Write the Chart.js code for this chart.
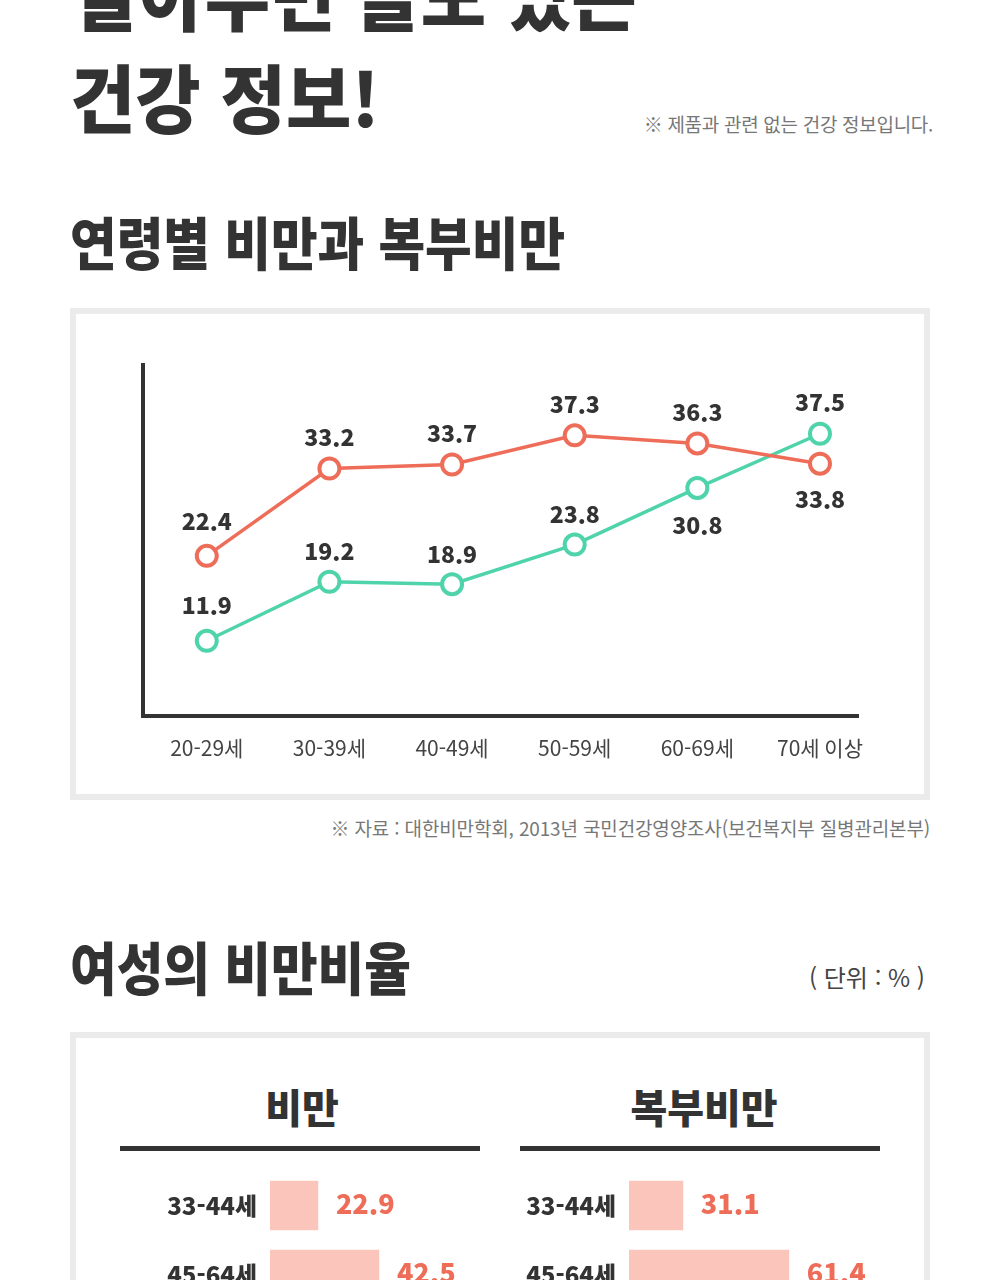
<!DOCTYPE html>
<html lang="ko">
<head>
<meta charset="utf-8">
<title>연령별 비만과 복부비만</title>
<script src="https://cdn.jsdelivr.net/npm/chart.js@4.4.1/dist/chart.umd.min.js"></script>
<style>
  html, body { margin: 0; padding: 0; background: #fff; }
  body {
    width: 1000px; height: 1280px; position: relative; overflow: hidden;
    font-family: "Noto Sans CJK KR", "Noto Sans", sans-serif; color: #333;
  }
  .abs { position: absolute; white-space: nowrap; line-height: 1; }
  .head { font-weight: 900; transform-origin: 0 0; transform: scaleX(0.89); }
  .big { transform: scaleX(0.96); }
  .note { color: #777; font-size: 19px; letter-spacing: -0.3px; }
  .box { position: absolute; left: 70px; width: 848px; border: 6px solid #ebebeb; background: #fff; }
  .panel-title { position: absolute; width: 360px; text-align: center; font-size: 40px; font-weight: 900; line-height: 1; }
  .rule { position: absolute; width: 360px; height: 5px; background: #333; }
  canvas { position: absolute; }
</style>
</head>
<body>

<div class="abs head big" style="left:74px; top:-44px; font-size:74px;">알아두면 쓸모 있는</div>
<div class="abs head big" style="left:70px; top:58px; font-size:74px;">건강 정보!</div>
<div class="abs note" style="right:67px; top:114px;">※ 제품과 관련 없는 건강 정보입니다.</div>

<div class="abs head" style="left:70px; top:212px; font-size:57px;">연령별 비만과 복부비만</div>

<div class="box" style="top:308px; height:480px;"></div>
<canvas id="lineChart" width="847" height="479" style="left:76px; top:314px;"></canvas>

<div class="abs note" style="right:70px; top:818px; letter-spacing:-0.15px;">※ 자료 : 대한비만학회, 2013년 국민건강영양조사(보건복지부 질병관리본부)</div>

<div class="abs head" style="left:70px; top:937px; font-size:57px;">여성의 비만비율</div>
<div class="abs" style="right:75px; top:965px; font-size:24px; color:#444;">( 단위 : % )</div>

<div class="box" style="top:1032px; height:400px;"></div>
<div class="panel-title" style="left:122px; top:1086px;">비만</div>
<div class="panel-title" style="left:524px; top:1086px;">복부비만</div>
<div class="rule" style="left:120px; top:1146px;"></div>
<div class="rule" style="left:520px; top:1146px;"></div>
<canvas id="barLeft" width="360" height="160" style="left:120px; top:1160px;"></canvas>
<canvas id="barRight" width="360" height="160" style="left:520px; top:1160px;"></canvas>

<script>
// Age groups and rates (%) for the line chart
const ageGroups = ['20-29세', '30-39세', '40-49세', '50-59세', '60-69세', '70세 이상'];
const obesityRate = [22.4, 33.2, 33.7, 37.3, 36.3, 33.8];
const abdominalRate = [11.9, 19.2, 18.9, 23.8, 30.8, 37.5];

// Women's obesity ratio (%) for the bar panels
const womenAges = ['33-44세', '45-64세'];
const womenObesity = [22.9, 42.5];
const womenAbdominal = [31.1, 61.4];

const DARK = '#333333';
const CORAL = '#ee6d59';
const MINT = '#4fd3ab';
const PINK = '#fcc5bc';
const NUM_FONT = '"Noto Sans CJK KR", "Noto Sans", sans-serif';

// Draw the value above / below each point
const pointLabels = {
  id: 'pointLabels',
  afterDatasetsDraw(chart) {
    const ctx = chart.ctx;
    chart.data.datasets.forEach((ds, di) => {
      const meta = chart.getDatasetMeta(di);
      meta.data.forEach((pt, i) => {
        ctx.save();
        ctx.font = '900 23px ' + NUM_FONT;
        ctx.fillStyle = DARK;
        ctx.textAlign = 'center';
        ctx.textBaseline = 'middle';
        ctx.fillText(ds.data[i].y.toFixed(1), pt.x, pt.y + ds.labelOffsets[i]);
        ctx.restore();
      });
    });
  }
};

new Chart(document.getElementById('lineChart'), {
  type: 'line',
  data: {
    datasets: [
      {
        label: '비만',
        data: obesityRate.map((v, i) => ({ x: i, y: v })),
        borderColor: CORAL,
        borderWidth: 3.5,
        pointRadius: 10,
        pointBorderWidth: 4,
        pointBackgroundColor: '#fff',
        pointBorderColor: CORAL,
        labelOffsets: [-35, -31, -31, -31, -31, 36],
        clip: false,
      },
      {
        label: '복부비만',
        data: abdominalRate.map((v, i) => ({ x: i, y: v })),
        borderColor: MINT,
        borderWidth: 3.5,
        pointRadius: 10,
        pointBorderWidth: 4,
        pointBackgroundColor: '#fff',
        pointBorderColor: MINT,
        labelOffsets: [-36, -30, -30, -30, 37, -31],
        clip: false,
      },
    ],
  },
  options: {
    responsive: false,
    animation: false,
    layout: { padding: { left: 67, right: 65, top: 51, bottom: 0 } },
    plugins: { legend: { display: false }, tooltip: { enabled: false } },
    scales: {
      x: {
        type: 'linear',
        min: -0.52,
        max: 5.31,
        grid: { display: false, drawTicks: false },
        border: { display: true, color: DARK, width: 4 },
        afterBuildTicks: (scale) => {
          scale.ticks = ageGroups.map((_, i) => ({ value: i }));
        },
        afterFit: (scale) => { scale.height = 77; },
        ticks: {
          padding: 19,
          color: '#444',
          font: { family: NUM_FONT, size: 21, weight: '400' },
          callback: (v) => ageGroups[v],
        },
      },
      y: {
        min: 2.6,
        max: 46,
        grid: { display: false, drawTicks: false },
        border: { display: true, color: DARK, width: 4 },
        ticks: { display: false },
        afterFit: (scale) => { scale.width = 0; },
      },
    },
  },
  plugins: [pointLabels],
});

// Value text to the right of each bar
const barValues = {
  id: 'barValues',
  afterDatasetsDraw(chart) {
    const ctx = chart.ctx;
    const meta = chart.getDatasetMeta(0);
    const values = chart.data.datasets[0].data;
    meta.data.forEach((bar, i) => {
      ctx.save();
      ctx.font = '900 27px ' + NUM_FONT;
      ctx.fillStyle = CORAL;
      ctx.textAlign = 'left';
      ctx.textBaseline = 'middle';
      ctx.fillText(values[i].toFixed(1), bar.x + 18, bar.y - 2);
      ctx.restore();
    });
  }
};

function makeBarChart(id, values, xMin, xMax, labelWidth) {
  return new Chart(document.getElementById(id), {
    type: 'bar',
    data: {
      labels: womenAges,
      datasets: [{ data: values, backgroundColor: PINK, barThickness: 49 }],
    },
    options: {
      indexAxis: 'y',
      responsive: false,
      animation: false,
      layout: { autoPadding: false, padding: { left: 0, right: 0, top: 11, bottom: 11 } },
      plugins: { legend: { display: false }, tooltip: { enabled: false } },
      scales: {
        x: { display: false, min: xMin, max: xMax },
        y: {
          grid: { display: false, drawTicks: false },
          border: { display: false },
          afterFit: (scale) => {
            scale.width = labelWidth;
            scale.paddingTop = 0;
            scale.paddingBottom = 0;
          },
          ticks: {
            padding: 13,
            color: DARK,
            font: { family: NUM_FONT, size: 24, weight: '900' },
          },
        },
      },
    },
    plugins: [barValues],
  });
}

makeBarChart('barLeft', womenObesity, 7.5, 75, 150);
makeBarChart('barRight', womenAbdominal, 15.7, 87.45, 109);
</script>
</body>
</html>
